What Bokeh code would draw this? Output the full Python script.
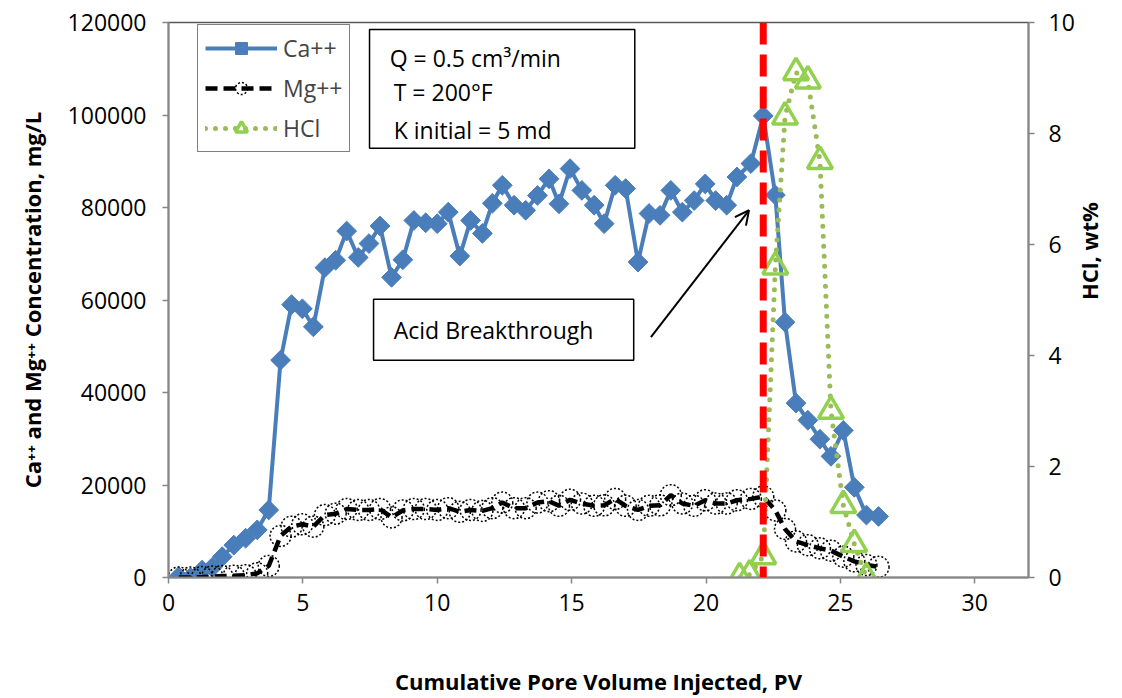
import numpy as np
from bokeh.plotting import figure
from bokeh.models import (Range1d, LinearAxis, FixedTicker, BasicTickFormatter, Legend,
                          LegendItem, Label, BoxAnnotation, Arrow, OpenHead, Span)
from bokeh.embed import file_html
from bokeh.resources import INLINE

# ---------------- data ----------------
pv = [0.38, 0.82, 1.25, 1.63, 2.0, 2.43, 2.87, 3.30, 3.73, 4.17, 4.58, 4.98, 5.39, 5.82,
      6.22, 6.63, 7.06, 7.46, 7.87, 8.30, 8.72, 9.13, 9.57, 10.0, 10.41, 10.84, 11.24,
      11.68, 12.05, 12.42, 12.86, 13.29, 13.73, 14.16, 14.53, 14.94, 15.38, 15.84, 16.21,
      16.62, 17.01, 17.47, 17.88, 18.29, 18.69, 19.12, 19.56, 19.97, 20.36, 20.77, 21.15,
      21.67, 22.13, 22.58, 22.94, 23.35, 23.79, 24.24, 24.65, 25.11, 25.52, 25.97, 26.42]
ca = [200, 0, 1600, 2200, 4500, 7000, 8500, 10300, 14600, 47000, 59000, 58100, 54200, 67000,
      68600, 74900, 69200, 72200, 76000, 64900, 68700, 77200, 76700, 76500, 79000, 69500, 77200,
      74400, 80900, 84800, 80500, 79400, 82600, 86200, 80800, 88400, 83700, 80500, 76500,
      84800, 84100, 68200, 78700, 78300, 83700, 79000, 81500, 85100, 81500, 80500, 86600,
      89500, 99800, 82700, 55200, 37700, 34000, 29900, 26200, 31800, 19500, 13500, 13200]
mg = [0, 0, 100, 200, 300, 400, 500, 900, 2500, 9000, 11000, 11500, 11000, 13500,
      13800, 14800, 14600, 14600, 14800, 13000, 14500, 14800, 14800, 14600, 15000, 14200, 14600,
      14400, 15000, 16200, 15000, 15000, 16200, 16500, 15500, 16800, 16000, 15500, 15600,
      17000, 15500, 14600, 15500, 15600, 17800, 16000, 15500, 16700, 16000, 16000, 16700,
      17000, 17500, 14500, 10500, 7800, 7000, 6300, 5800, 4500, 3500, 2700, 2300]
hcl_pv = [21.25, 21.62, 22.13, 22.58, 22.94, 23.35, 23.79, 24.24, 24.65, 25.11, 25.52, 25.97]
hcl = [0.0, 0.05, 0.38, 5.6, 8.3, 9.1, 8.95, 7.5, 3.0, 1.3, 0.6, 0.0]
breakthrough_pv = 22.13

x_ticks = [0, 5, 10, 15, 20, 25, 30]
y_ticks = [0, 20000, 40000, 60000, 80000, 100000, 120000]
y2_ticks = [0, 2, 4, 6, 8, 10]

FONT = "Open Sans"
CA_COLOR = "#4A7EBB"

p = figure(width=1122, height=698, x_range=Range1d(0, 32), y_range=Range1d(0, 120000),
           output_backend="svg", toolbar_location=None,
           min_border_left=168, min_border_right=94, min_border_top=22, min_border_bottom=120)
p.extra_y_ranges = {"hcl": Range1d(0, 10)}
p.grid.visible = False
p.outline_line_color = "#595959"
p.outline_line_width = 1.5
p.background_fill_color = "white"
p.border_fill_color = "white"

p.xaxis.ticker = FixedTicker(ticks=x_ticks)
p.yaxis.ticker = FixedTicker(ticks=y_ticks)
p.yaxis.formatter = BasicTickFormatter(use_scientific=False)
p.xaxis.axis_label = "Cumulative Pore Volume Injected, PV"
p.yaxis.axis_label = "Ca\u207a\u207a and Mg\u207a\u207a Concentration, mg/L"

right = LinearAxis(y_range_name="hcl", ticker=FixedTicker(ticks=y2_ticks),
                   axis_label="HCl, wt%")
p.add_layout(right, "right")

for ax in [p.xaxis[0], p.yaxis[0], right]:
    ax.axis_line_color = "#868686"
    ax.axis_line_width = 2
    ax.major_tick_line_color = "#868686"
    ax.major_tick_line_width = 1.5
    ax.major_tick_in = 0
    ax.major_tick_out = 6
    ax.minor_tick_line_color = None
    ax.major_label_text_font = FONT
    ax.major_label_text_font_size = "23px"
    ax.major_label_text_color = "black"
    ax.axis_label_text_font = FONT
    ax.axis_label_text_font_style = "bold"
    ax.axis_label_text_font_size = "22px"
    ax.axis_label_text_color = "black"

p.xaxis.major_label_standoff = 10
p.xaxis.axis_label_standoff = 52
p.yaxis.major_label_standoff = 16
p.yaxis.axis_label_standoff = 18
right.major_label_standoff = 14
right.axis_label_standoff = 11
# right axis title should read bottom-to-top, like the left one
right.axis_label_orientation = np.pi / 2

# ---------------- series ----------------
ca_line = p.line(pv, ca, line_color=CA_COLOR, line_width=4)
ca_pts = p.scatter(pv, ca, marker="square", angle=np.pi / 4, size=14,
                   fill_color=CA_COLOR, line_color=CA_COLOR)

mg_line = p.line(pv, mg, line_color="black", line_width=4.5, line_dash="12 6")
mg_pts = p.scatter(pv, mg, marker="circle", size=21, fill_color=None,
                   line_color="black", line_width=1.5, line_dash="2 2")

hcl_line = p.line(hcl_pv, hcl, y_range_name="hcl", line_color="#9BBB59", line_width=5,
                  line_dash="0 10", line_cap="round")
hcl_pts = p.scatter(hcl_pv, hcl, y_range_name="hcl", marker="triangle", size=25,
                    fill_color=None, line_color="#92D050", line_width=3.5)

# breakthrough line
p.add_layout(Span(location=breakthrough_pv, dimension="height", line_color="#FF0000",
                  line_width=7, line_dash="22 10"))

# ---------------- legend ----------------
legend = Legend(items=[LegendItem(label="Ca++", renderers=[ca_line, ca_pts]),
                       LegendItem(label="Mg++", renderers=[mg_line, mg_pts]),
                       LegendItem(label="HCl", renderers=[hcl_line, hcl_pts])],
                location=(29, 425), glyph_width=72, glyph_height=30, spacing=8, padding=7,
                label_standoff=6, border_line_color="black", border_line_width=1.5,
                label_text_font=FONT, label_text_font_size="23px",
                background_fill_color="white", background_fill_alpha=1, margin=0)
p.add_layout(legend, "center")

# ---------------- text boxes ----------------
p.add_layout(BoxAnnotation(left=7.48, right=17.35, bottom=92800, top=118500,
                           fill_color="white", fill_alpha=1, line_color="black",
                           line_width=1.5, line_alpha=1))
for tx, ty, t in [(8.23, 112400, "Q = 0.5 cm\u00b3/min"),
                  (8.38, 104900, "T = 200\u00b0F"),
                  (8.38, 96700, "K initial = 5 md")]:
    p.add_layout(Label(x=tx, y=ty, text=t, text_baseline="middle", text_font=FONT,
                       text_font_size="23px", text_color="black"))

p.add_layout(BoxAnnotation(left=7.63, right=17.31, bottom=47000, top=60160,
                           fill_color="white", fill_alpha=1, line_color="black",
                           line_width=1.5, line_alpha=1))
p.add_layout(Label(x=8.38, y=53460, text="Acid Breakthrough", text_baseline="middle",
                   text_font=FONT, text_font_size="23px", text_color="black"))

p.add_layout(Arrow(end=OpenHead(size=14, line_width=2, line_color="black"),
                   x_start=17.95, y_start=51950, x_end=21.6, y_end=79400,
                   line_width=2, line_color="black"))

open("out.html", "w").write(file_html(p, INLINE))
